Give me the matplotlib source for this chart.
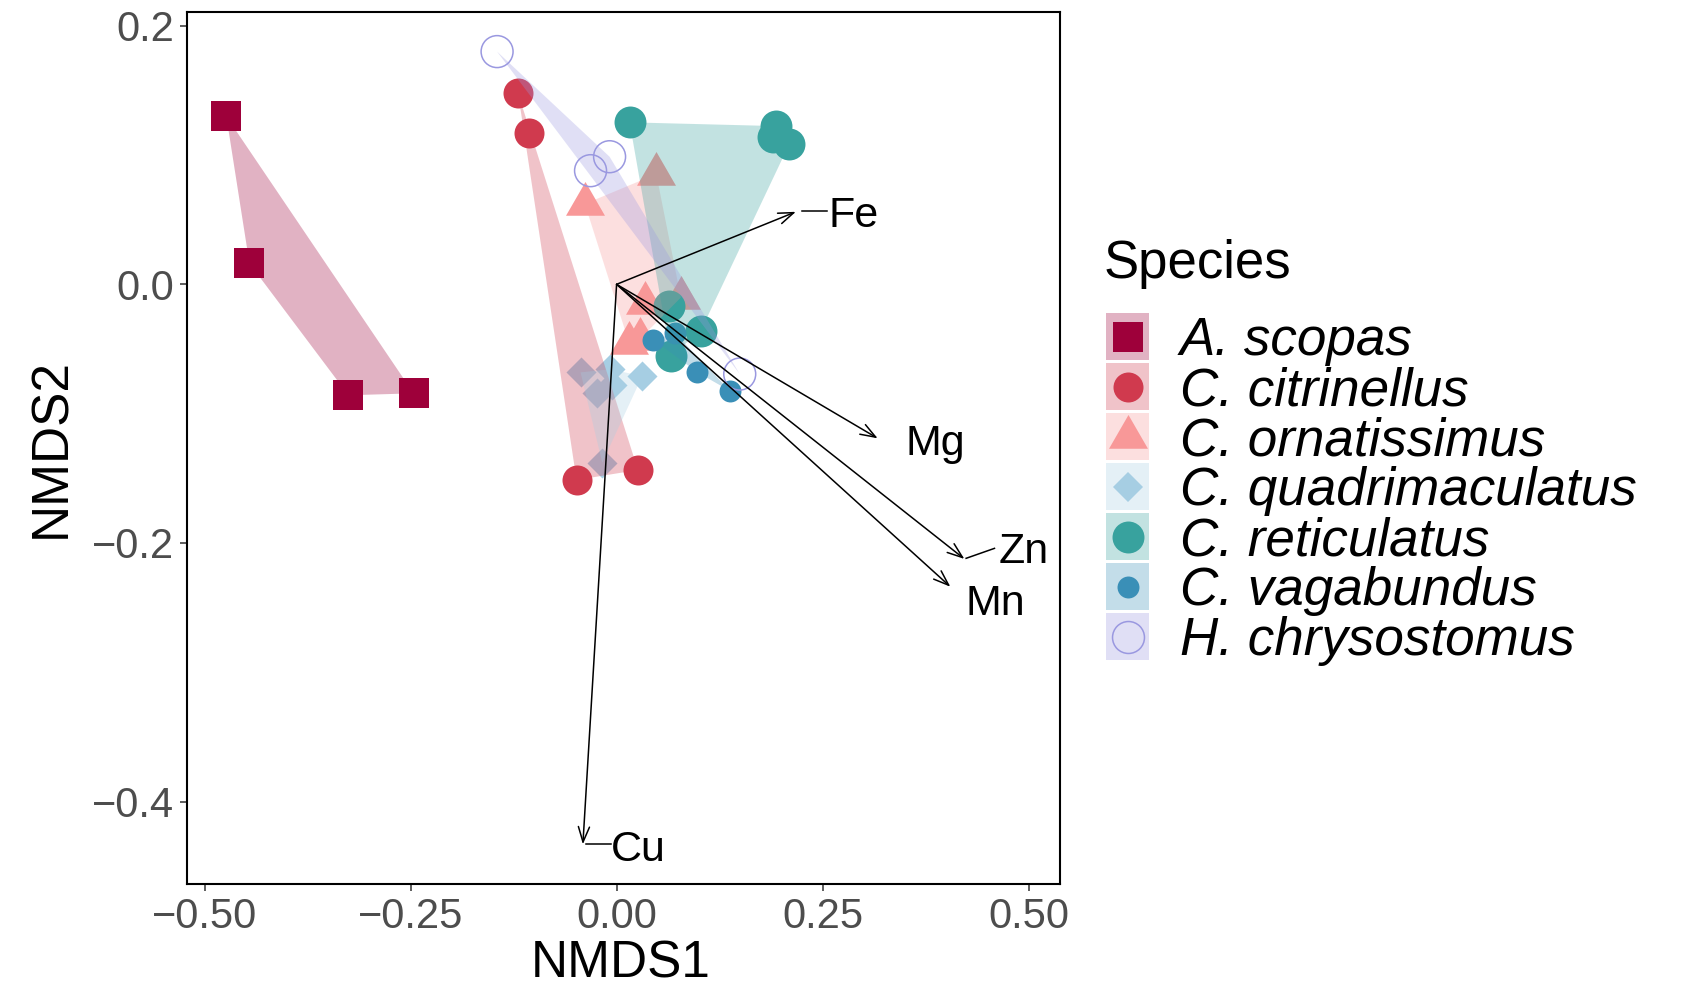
import numpy as np
import matplotlib
matplotlib.use("Agg")
import matplotlib.pyplot as plt
from matplotlib.lines import Line2D
from matplotlib.patches import Rectangle, Polygon

plt.rcParams["font.family"] = ["Liberation Sans", "DejaVu Sans"]

# NMDS site scores per species
species = ["A. scopas", "C. citrinellus", "C. ornatissimus", "C. quadrimaculatus",
           "C. reticulatus", "C. vagabundus", "H. chrysostomus"]

scopas_x = [-0.4735, -0.4455, -0.3253, -0.2463]
scopas_y = [0.1299, 0.0162, -0.0858, -0.0843]
citrinellus_x = [-0.1195, -0.1065, -0.0486, 0.0259]
citrinellus_y = [0.1477, 0.1168, -0.1513, -0.1436]
ornatissimus_x = [-0.0385, 0.0482, 0.0344, 0.0150, 0.0280, 0.0780]
ornatissimus_y = [0.0622, 0.0853, -0.0141, -0.0450, -0.0425, -0.0102]
quadrimaculatus_x = [-0.0437, -0.0235, -0.0081, -0.0052, 0.0312, -0.0174]
quadrimaculatus_y = [-0.0681, -0.0843, -0.0657, -0.0779, -0.0709, -0.1380]
reticulatus_x = [0.0158, 0.1932, 0.1900, 0.2094, 0.0636, 0.1020, 0.0656]
reticulatus_y = [0.1253, 0.1224, 0.1140, 0.1083, -0.0166, -0.0361, -0.0555]
vagabundus_x = [0.0446, 0.0709, 0.0980, 0.1377]
vagabundus_y = [-0.0428, -0.0379, -0.0680, -0.0825]
chrysostomus_x = [-0.1450, -0.0316, -0.0085, 0.1494]
chrysostomus_y = [0.1800, 0.0879, 0.0987, -0.0694]

# fitted element vectors (envfit)
elements = ["Fe", "Mg", "Zn", "Mn", "Cu"]
vec_x = [0.2175, 0.3168, 0.4220, 0.4050, -0.0409]
vec_y = [0.0561, -0.1191, -0.2124, -0.2339, -0.4331]
label_x = [0.2874, 0.3864, 0.4939, 0.4599, 0.0267]
label_y = [0.0445, -0.1320, -0.2158, -0.2558, -0.4460]
seg_x0 = [0.2253, np.nan, 0.4241, np.nan, -0.0367]
seg_y0 = [0.0567, np.nan, -0.2119, np.nan, -0.4331]
seg_x1 = [0.2557, np.nan, 0.4585, np.nan, -0.0069]
seg_y1 = [0.0567, np.nan, -0.2042, np.nan, -0.4331]

xs = [scopas_x, citrinellus_x, ornatissimus_x, quadrimaculatus_x,
      reticulatus_x, vagabundus_x, chrysostomus_x]
ys = [scopas_y, citrinellus_y, ornatissimus_y, quadrimaculatus_y,
      reticulatus_y, vagabundus_y, chrysostomus_y]

colours = ["#9E003A", "#D03A4E", "#F89898", "#A6CEE3", "#38A29E", "#3A8FB7", "#9A98E0"]
tri = [(-1, -0.57735), (1, -0.57735), (0, 1.1547)]
markers = ["s", "o", tri, "D", "o", "o", "o"]
sizes = [22.3, 21.6, 32.4, 15.3, 23.0, 15.8, 23.0]  # marker size in points
hollow = [False, False, False, False, False, False, True]

W, H = 1684, 991


def convex_hull(px, py):
    pts = sorted(set(zip(px, py)))
    if len(pts) < 3:
        return pts

    def cross(o, a, b):
        return (a[0] - o[0]) * (b[1] - o[1]) - (a[1] - o[1]) * (b[0] - o[0])

    lower, upper = [], []
    for p in pts:
        while len(lower) >= 2 and cross(lower[-2], lower[-1], p) <= 0:
            lower.pop()
        lower.append(p)
    for p in reversed(pts):
        while len(upper) >= 2 and cross(upper[-2], upper[-1], p) <= 0:
            upper.pop()
        upper.append(p)
    return lower[:-1] + upper[:-1]


def fig_xy(x, y):
    return x / W, 1 - y / H


fig = plt.figure(figsize=(W / 100, H / 100), dpi=100)
ax_l, ax_t, ax_r, ax_b = 186.7, 12.3, 1060, 884
ax = fig.add_axes([ax_l / W, 1 - ax_b / H, (ax_r - ax_l) / W, (ax_b - ax_t) / H])

# points first, hulls laid over them
for i in range(len(species)):
    if hollow[i]:
        ax.scatter(xs[i], ys[i], s=sizes[i] ** 2, marker=markers[i],
                   facecolors="none", edgecolors=colours[i], linewidths=1.1, zorder=2)
    else:
        ax.scatter(xs[i], ys[i], s=sizes[i] ** 2, marker=markers[i],
                   color=colours[i], linewidths=0, zorder=2)

for i in range(len(species)):
    hull = convex_hull(xs[i], ys[i])
    ax.add_patch(Polygon(hull, closed=True, facecolor=colours[i], alpha=0.3,
                         edgecolor="none", zorder=3))

for i, name in enumerate(elements):
    ax.annotate("", xy=(vec_x[i], vec_y[i]), xytext=(0, 0),
                arrowprops=dict(arrowstyle="->,head_length=1.1,head_width=0.4",
                                color="black", lw=1.1, shrinkA=0, shrinkB=0),
                zorder=4)
    if not np.isnan(seg_x0[i]):
        ax.plot([seg_x0[i], seg_x1[i]], [seg_y0[i], seg_y1[i]],
                color="black", lw=1.1, zorder=4)
    ax.text(label_x[i], label_y[i], name, fontsize=31, ha="center",
            va="baseline", zorder=5)

ax.set_xlim(-0.5216, 0.538)
ax.set_ylim(-0.4638, 0.2104)
ax.set_xticks([-0.5, -0.25, 0, 0.25, 0.5])
ax.set_xticklabels(["\u22120.50", "\u22120.25", "0.00", "0.25", "0.50"])
ax.set_yticks([-0.4, -0.2, 0, 0.2])
ax.set_yticklabels(["\u22120.4", "\u22120.2", "0.0", "0.2"])
ax.tick_params(length=5, width=1.1, color="#333333", labelsize=30,
               labelcolor="#4D4D4D", pad=4)
for sp in ax.spines.values():
    sp.set_linewidth(1.5)
    sp.set_color("black")

ax.set_xlabel("NMDS1", fontsize=37, va="center")
ax.xaxis.set_label_coords(0.497, -(964 - ax_b) / (ax_b - ax_t))
ax.set_ylabel("NMDS2", fontsize=37, va="center")
ax.yaxis.set_label_coords((51.5 - ax_l) / (ax_r - ax_l), 0.5)

# legend
fig.text(*fig_xy(1104, 264), "Species", fontsize=38, ha="left", va="center")
key_w, key_h = 43, 46.7
for i, name in enumerate(species):
    cy = 336.7 + 50 * i
    x0, y0 = fig_xy(1106, cy + key_h / 2)
    fig.add_artist(Rectangle((x0, y0), key_w / W, key_h / H,
                             transform=fig.transFigure, facecolor=colours[i],
                             alpha=0.3, edgecolor="none"))
    mx, my = fig_xy(1106 + key_w / 2, cy)
    if hollow[i]:
        fig.add_artist(Line2D([mx], [my], transform=fig.transFigure,
                              marker=markers[i], markersize=sizes[i],
                              markerfacecolor="none", markeredgecolor=colours[i],
                              markeredgewidth=1.1, linestyle="none"))
    else:
        fig.add_artist(Line2D([mx], [my], transform=fig.transFigure,
                              marker=markers[i], markersize=sizes[i],
                              color=colours[i], markeredgewidth=0, linestyle="none"))
    fig.text(*fig_xy(1180, cy + 4.5), name, fontsize=38.2, style="italic",
             ha="left", va="center")

fig.savefig("out.png", dpi=100)
